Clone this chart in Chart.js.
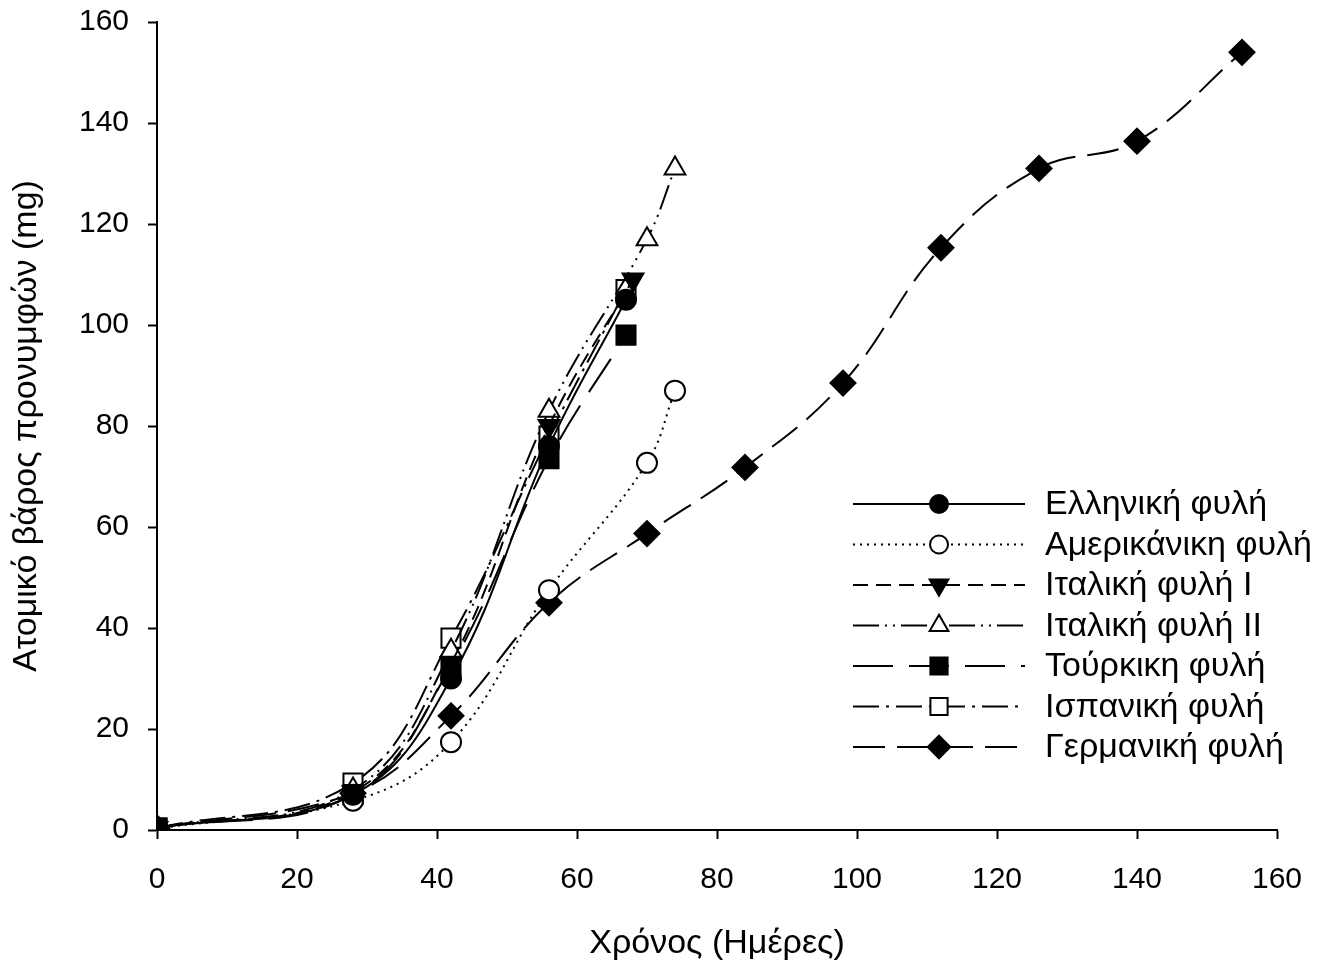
<!DOCTYPE html>
<html>
<head>
<meta charset="utf-8">
<script src="https://cdn.jsdelivr.net/npm/chart.js@4.4.1/dist/chart.umd.min.js"></script>
<style>
  html, body { margin: 0; padding: 0; background: #fff; }
  #wrap { width: 1323px; height: 966px; }
</style>
</head>
<body>
<div id="wrap"><canvas id="chart" width="1323" height="966"></canvas></div>
<script>
// Τιμές διαβασμένες από το γράφημα (ημέρες → mg)
const greekDays = [0, 28, 42, 56, 67];
const greekWeight = [0.4, 7, 30, 76, 105];

const americanDays = [0, 28, 42, 56, 70, 74];
const americanWeight = [0.3, 5.8, 17.4, 47.5, 72.7, 87];

const italian1Days = [0, 28, 42, 56, 68];
const italian1Weight = [0.4, 7.5, 33, 80, 109];

const italian2Days = [0, 28, 42, 56, 70, 74];
const italian2Weight = [0.4, 8, 35.5, 83, 117, 131];

const turkishDays = [0, 28, 42, 56, 67];
const turkishWeight = [0.4, 7, 32.5, 73.5, 98];

const spanishDays = [0, 28, 42, 56, 67];
const spanishWeight = [0.4, 9.3, 38, 78, 107];

const germanDays = [0, 28, 42, 56, 70, 84, 98, 112, 126, 140, 155];
const germanWeight = [0.4, 7.3, 22.6, 45, 58.7, 71.8, 88.5, 115.3, 131, 136.4, 154];

const xTicks = [0, 20, 40, 60, 80, 100, 120, 140, 160];
const yTicks = [0, 20, 40, 60, 80, 100, 120, 140, 160];

const FONT = '"Liberation Sans", Arial, sans-serif';

function points(days, weights) {
    return days.map((d, i) => ({ x: d, y: weights[i] }));
}

function series(label, days, weights, style) {
    return {
        label,
        data: points(days, weights),
        borderColor: '#000',
        borderWidth: 2,
        borderDash: style.dash,
        tension: 0.4,
        pointStyle: style.point,
        pointRotation: style.rotation || 0,
        pointRadius: style.radius,
        pointHoverRadius: style.radius,
        pointBorderWidth: 2,
        pointBorderColor: '#000',
        pointBackgroundColor: style.fill,
        fill: false
    };
}

const datasets = [
    series('Ελληνική φυλή', greekDays, greekWeight, { dash: [], point: 'circle', radius: 10, fill: '#000' }),
    series('Αμερικάνικη φυλή', americanDays, americanWeight, { dash: [2, 5], point: 'circle', radius: 10, fill: '#fff' }),
    series('Ιταλική φυλή I', italian1Days, italian1Weight, { dash: [15, 8], point: 'triangle', rotation: 180, radius: 12, fill: '#000' }),
    series('Ιταλική φυλή II', italian2Days, italian2Weight, { dash: [26, 6, 2, 6, 2, 6], point: 'triangle', radius: 12, fill: '#fff' }),
    series('Τούρκικη φυλή', turkishDays, turkishWeight, { dash: [40, 16], point: 'rect', radius: 13.5, fill: '#000' }),
    series('Ισπανική φυλή', spanishDays, spanishWeight, { dash: [26, 7, 3, 7], point: 'rect', radius: 13.5, fill: '#fff' }),
    series('Γερμανική φυλή', germanDays, germanWeight, { dash: [32, 12], point: 'rectRot', radius: 12.5, fill: '#000' })
];

// Υπόμνημα όπως στο πρωτότυπο: γραμμή με το σύμβολο στη μέση, κείμενο δεξιά
const legendPlugin = {
    id: 'sampleLegend',
    afterDraw(chart) {
        const ctx = chart.ctx;
        const lineStart = 853, lineEnd = 1025, markX = 939, textX = 1045;
        const firstRow = 504, rowStep = 40.5;

        ctx.save();
        chart.data.datasets.forEach((ds, i) => {
            const y = firstRow + i * rowStep;
            ctx.strokeStyle = '#000';
            ctx.lineWidth = 2;
            ctx.setLineDash(ds.borderDash);
            ctx.beginPath();
            ctx.moveTo(lineStart, y);
            ctx.lineTo(lineEnd, y);
            ctx.stroke();
            ctx.setLineDash([]);

            ctx.fillStyle = ds.pointBackgroundColor;
            ctx.strokeStyle = '#000';
            Chart.helpers.drawPoint(ctx, {
                pointStyle: ds.pointStyle,
                rotation: ds.pointRotation,
                radius: ds.pointRadius * 0.9,
                borderWidth: 2
            }, markX, y);

            ctx.fillStyle = '#000';
            ctx.font = '34px ' + FONT;
            ctx.textBaseline = 'middle';
            ctx.textAlign = 'left';
            ctx.fillText(ds.label, textX, y + 1);
        });
        ctx.restore();
    }
};

function axis(ticks, title, fitSize, isX) {
    return {
        type: 'linear',
        min: ticks[0],
        max: ticks[ticks.length - 1],
        afterBuildTicks: (scale) => { scale.ticks = ticks.map(v => ({ value: v })); },
        afterFit: (scale) => {
            // τα όρια του διαγράμματος ορίζονται μόνο από το layout padding
            if (isX) {
                scale.height = fitSize;
                scale.paddingLeft = 0;
                scale.paddingRight = 0;
            } else {
                scale.width = fitSize;
                scale.paddingTop = 0;
                scale.paddingBottom = 0;
            }
        },
        border: { display: true, color: '#000', width: 2 },
        grid: {
            drawOnChartArea: false,
            drawTicks: true,
            tickLength: 9,
            tickColor: '#000',
            tickWidth: 2
        },
        ticks: {
            color: '#000',
            padding: isX ? 23 : 19,
            font: { family: FONT, size: 30 },
            maxRotation: 0
        },
        title: {
            display: true,
            text: title,
            color: '#000',
            font: { family: FONT, size: 34 },
            padding: isX ? { top: 8, bottom: 2 } : { top: 6, bottom: 4 }
        }
    };
}

new Chart(document.getElementById('chart'), {
    type: 'line',
    data: { datasets },
    options: {
        responsive: false,
        animation: false,
        layout: { padding: { left: 0, top: 22, right: 46, bottom: 0 } },
        plugins: {
            legend: { display: false },
            tooltip: { enabled: false }
        },
        scales: {
            x: axis(xTicks, 'Χρόνος (Ημέρες)', 136, true),
            y: axis(yTicks, 'Ατομικό βάρος προνυμφών (mg)', 157, false)
        }
    },
    plugins: [legendPlugin]
});
</script>
</body>
</html>
